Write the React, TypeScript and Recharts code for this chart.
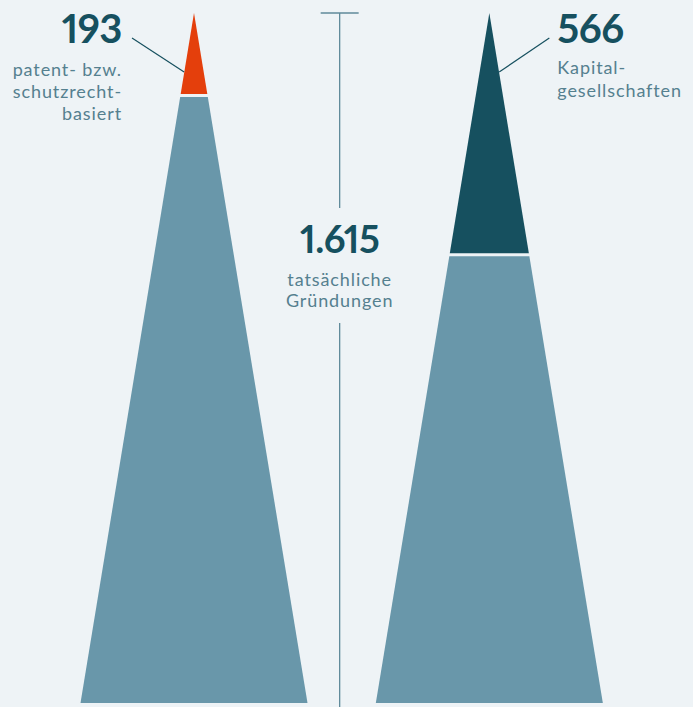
import React from "react";
import { BarChart, Bar, XAxis, YAxis, Cell, LabelList } from "recharts";

// Gründungen: Anteil patent-/schutzrechtbasiert und Kapitalgesellschaften
const categories = ["patent", "gesamt", "kapital"];
const topValues = [193, 0, 566];
const totalValues = [1615, 1615, 1615];
const lineValues = [0, 1615, 0];
const numberLabels = ["193", "1.615", "566"];
const textLabels = [
  ["patent- bzw.", "schutzrecht-", "basiert"],
  ["tatsächliche", "Gründungen"],
  ["Kapital-", "gesellschaften"],
];

const TOTAL = 1615;

const BG = "#eef3f6";
const DARK = "#16505f";
const MID = "#6997aa";
const RED = "#e43f0c";
const TEXT = "#55808f";
const LINE = "#5f8a9a";
const topColors = [RED, DARK, DARK];

const TAPER = 0.1645; // half width per px of depth
const GAP = 3;
const FONT = "Lato, 'Open Sans', sans-serif";
const numStyle = { fontVariantNumeric: "proportional-nums" as const };

const data = categories.map((name, i) => ({
  name,
  top: topValues[i],
  rest: lineValues[i] ? 0 : totalValues[i] - topValues[i],
  line: lineValues[i],
}));

const makeCone = (segment: "top" | "rest") => (props: any) => {
  const { x, y, width, height, fill, payload } = props;
  const y0 = Math.min(y, y + height);
  const y1 = Math.max(y, y + height);
  const h = y1 - y0;
  if (!h || h < 0.5) return <g />;
  const start = segment === "top" ? 0 : payload.top;
  const end = payload.top + (segment === "top" ? 0 : payload.rest);
  const ppu = h / (end - start);
  const apex = y0 - start * ppu;
  const cx = x + width / 2;
  const a = y0 + (segment === "rest" ? GAP / 2 : 0);
  const b = y1 - (segment === "top" ? GAP / 2 : 0);
  const hw = (yy: number) => (yy - apex) * TAPER;
  return (
    <path
      d={`M${cx - hw(a)},${a} L${cx + hw(a)},${a} L${cx + hw(b)},${b} L${cx - hw(b)},${b} Z`}
      fill={fill}
    />
  );
};

const lineShape = (props: any) => {
  const { x, y, width, height } = props;
  const y0 = Math.min(y, y + height);
  const y1 = Math.max(y, y + height);
  if (y1 - y0 < 0.5) return <g />;
  const cx = x + width / 2 - 2;
  return (
    <g stroke={LINE} strokeWidth={1.3}>
      <line x1={cx - 19} x2={cx + 19} y1={y0} y2={y0} />
      <line x1={cx} x2={cx} y1={y0} y2={y0 + 195} />
      <line x1={cx} x2={cx} y1={y0 + 310} y2={y1 + 10} />
    </g>
  );
};

const sideLabel = (props: any) => {
  const { index, viewBox } = props;
  if (index === 1 || !viewBox) return null;
  const cx = viewBox.x + viewBox.width / 2;
  const apex = Math.min(viewBox.y, viewBox.y + viewBox.height);
  const left = index === 0;
  const dir = left ? -1 : 1;
  const tx = cx + dir * (left ? 72 : 68);
  const lines = textLabels[index];
  const lineY = left ? [63, 85, 107] : [61, 84];
  return (
    <g>
      <line
        x1={cx + dir * 60 * TAPER}
        y1={apex + 59}
        x2={cx + dir * (left ? 62 : 60)}
        y2={apex + 25}
        stroke={DARK}
        strokeWidth={1.2}
      />
      <text
        x={tx}
        y={apex + 30}
        textAnchor={left ? "end" : "start"}
        fontFamily={FONT}
        fontWeight={700}
        fontSize={40}
        letterSpacing={-0.5}
        fill={DARK}
        style={numStyle}
      >
        {numberLabels[index]}
      </text>
      {lines.map((t, k) => (
        <text
          key={t}
          x={tx}
          y={apex + lineY[k]}
          textAnchor={left ? "end" : "start"}
          fontFamily={FONT}
          fontSize={18}
          letterSpacing={0.9}
          fill={TEXT}
        >
          {t}
        </text>
      ))}
    </g>
  );
};

const middleLabel = (props: any) => {
  const { index, viewBox } = props;
  if (index !== 1 || !viewBox) return null;
  const cx = viewBox.x + viewBox.width / 2 - 2;
  const top = Math.min(viewBox.y, viewBox.y + viewBox.height);
  return (
    <g textAnchor="middle" fontFamily={FONT}>
      <text
        x={cx}
        y={top + 240}
        fontWeight={700}
        fontSize={38}
        letterSpacing={-0.5}
        fill={DARK}
        style={numStyle}
      >
        {numberLabels[1]}
      </text>
      {textLabels[1].map((t, k) => (
        <text
          key={t}
          x={cx}
          y={top + 273 + k * 21}
          fontSize={18}
          letterSpacing={0.9}
          fill={TEXT}
        >
          {t}
        </text>
      ))}
    </g>
  );
};

export default function App() {
  return (
    <div
      style={{
        position: "absolute",
        left: 0,
        top: 0,
        width: 693,
        height: 707,
        background: BG,
        overflow: "hidden",
      }}
    >
      <BarChart
        width={693}
        height={707}
        data={data}
        margin={{ top: 13, right: 130, left: 120, bottom: 4 }}
        barSize={20}
      >
        <XAxis dataKey="name" hide />
        <YAxis type="number" domain={[0, TOTAL]} reversed hide />
        <Bar dataKey="top" stackId="a" shape={makeCone("top")} isAnimationActive={false}>
          {data.map((d, i) => (
            <Cell key={d.name} fill={topColors[i]} />
          ))}
          <LabelList dataKey="top" content={sideLabel} />
        </Bar>
        <Bar
          dataKey="rest"
          stackId="a"
          fill={MID}
          shape={makeCone("rest")}
          isAnimationActive={false}
        />
        <Bar dataKey="line" stackId="a" shape={lineShape} isAnimationActive={false}>
          <LabelList dataKey="line" content={middleLabel} />
        </Bar>
      </BarChart>
    </div>
  );
}
